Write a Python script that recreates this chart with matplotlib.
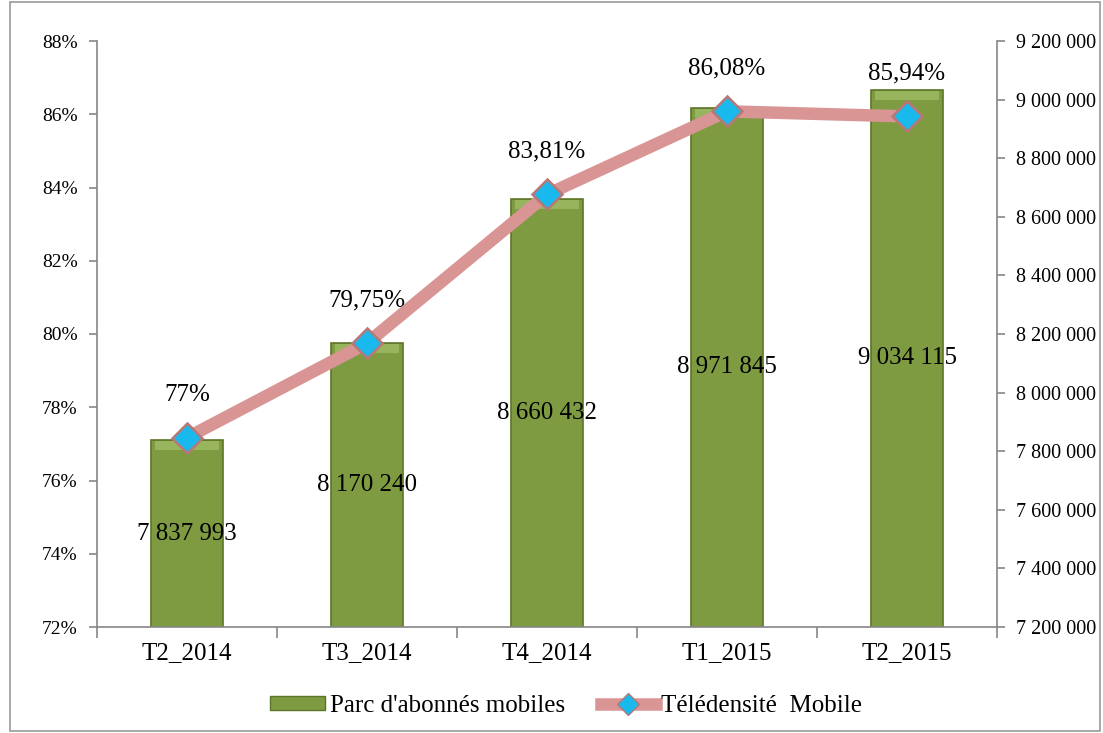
import matplotlib
matplotlib.use("Agg")
import matplotlib.pyplot as plt
from matplotlib.patches import Rectangle
from matplotlib.ticker import FixedLocator, FuncFormatter
from matplotlib.lines import Line2D
from matplotlib.patches import Patch

categories = ["T2_2014", "T3_2014", "T4_2014", "T1_2015", "T2_2015"]
abonnes = [7837993, 8170240, 8660432, 8971845, 9034115]
abonnes_labels = ["7 837 993", "8 170 240", "8 660 432", "8 971 845", "9 034 115"]
teledensite = [77.17, 79.75, 83.81, 86.08, 85.94]
teledensite_labels = ["77%", "79,75%", "83,81%", "86,08%", "85,94%"]
left_ticks = [72, 74, 76, 78, 80, 82, 84, 86, 88]
right_ticks = [7200000, 7400000, 7600000, 7800000, 8000000, 8200000,
               8400000, 8600000, 8800000, 9000000, 9200000]

plt.rcParams['font.family'] = ['Liberation Serif', 'DejaVu Serif']

fig = plt.figure(figsize=(11.03, 7.33), dpi=100)
ax = fig.add_axes([97/1103, 1-627/733, 900/1103, 586/733])
ax2 = ax.twinx()

bar_color = "#7E9B42"
x = list(range(len(categories)))
# bars on secondary axis
ax2.bar(x, abonnes, width=0.4, color=bar_color, edgecolor="#5C7428",
        linewidth=1.2, zorder=2)
for xi, v in zip(x, abonnes):
    ax2.bar(xi, 30000, bottom=v - 34000, width=0.36, color="#98B45C",
            linewidth=0, zorder=3)
for xi, v, lab in zip(x, abonnes, abonnes_labels):
    ax2.text(xi, (7200000 + v) / 2, lab, ha="center", va="center",
             fontsize=18, color="black", zorder=6)
ax2.set_ylim(7200000, 9200000)
ax2.yaxis.set_major_locator(FixedLocator(right_ticks))
ax2.yaxis.set_major_formatter(FuncFormatter(
    lambda v, p: f"{int(v):,}".replace(",", " ")))

# line on primary axis, drawn above bars
ax.set_zorder(ax2.get_zorder() + 1)
ax.patch.set_visible(False)
ax.plot(x, teledensite, color="#D99594", linewidth=9, solid_capstyle="butt",
        zorder=4)
ax.plot(x, teledensite, linestyle="none", marker="D", markersize=15,
        markerfacecolor="#19B9EE", markeredgecolor="#B97776",
        markeredgewidth=1.8, zorder=5)
for xi, v, lab in zip(x, teledensite, teledensite_labels):
    ax.annotate(lab, (xi, v), xytext=(0, 23), textcoords="offset points",
                ha="center", va="bottom", fontsize=18)
ax.set_ylim(72, 88)
ax.yaxis.set_major_locator(FixedLocator(left_ticks))
ax.yaxis.set_major_formatter(FuncFormatter(lambda v, p: f"{v:.0f}%"))
ax.set_xlim(-0.5, len(categories) - 0.5)
ax.set_xticks(x)
ax.set_xticklabels(categories, fontsize=18)
ax.tick_params(axis="x", length=0, pad=11)
ax.set_xticks([i - 0.5 for i in range(len(categories) + 1)], minor=True)
ax.tick_params(axis="x", which="minor", length=8, color="#868686", width=1.2)

grey = "#868686"
for a in (ax, ax2):
    for s in a.spines.values():
        s.set_visible(False)
ax.spines["left"].set_visible(True)
ax.spines["bottom"].set_visible(True)
ax2.spines["right"].set_visible(True)
for s in (ax.spines["left"], ax.spines["bottom"], ax2.spines["right"]):
    s.set_color(grey)
    s.set_linewidth(1.2)
ax.tick_params(axis="y", labelsize=14, length=6, color=grey, width=1.2, pad=8)
ax2.tick_params(axis="y", labelsize=14.5, length=6, color=grey, width=1.2, pad=8)

# legend
handles = [Patch(facecolor=bar_color, edgecolor="#5C7428"),
           Line2D([0], [0], color="#D99594", linewidth=9, marker="D",
                  markersize=11, markerfacecolor="#19B9EE",
                  markeredgecolor="#B97776")]
fig.legend(handles, ["Parc d'abonnés mobiles", "Télédensité  Mobile"],
           loc="center", bbox_to_anchor=(566/1103, 1-706/733), ncol=2,
           frameon=False, fontsize=18, handlelength=2.2, handleheight=0.5,
           columnspacing=1.4, handletextpad=0.2)

fig.patches.append(Rectangle((10/1103, 2/733), 1090/1103, 729/733,
                             transform=fig.transFigure, fill=False,
                             edgecolor="#9a9a9a", linewidth=1.2))

fig.savefig("out.png", dpi=100)
